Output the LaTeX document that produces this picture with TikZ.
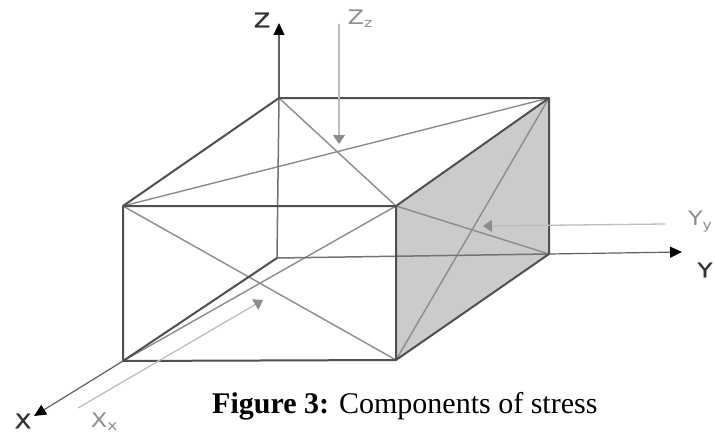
\documentclass[tikz,border=0pt]{standalone}
\usepackage{fontspec}
\setmainfont{Liberation Serif}
\newfontfamily\axfont[FakeStretch=1.2,FakeBold=1.2]{DejaVu Sans}
\newfontfamily\stfont[FakeStretch=1.2]{DejaVu Sans}
\usetikzlibrary{arrows.meta}
\definecolor{edgecol}{HTML}{505050}
\definecolor{diagcol}{HTML}{8C8C8C}
\definecolor{facecol}{HTML}{CBCBCB}
\definecolor{stresscol}{HTML}{BEBEBE}
\definecolor{stresslbl}{HTML}{8F8F8F}
\tikzset{
  x=1pt,y=-1pt,
  edge/.style={draw=edgecol,line width=2pt,line join=round},
  hidden/.style={draw=edgecol!80!white,line width=1.5pt},
  diag/.style={draw=diagcol,line width=1.4pt},
  axis/.style={draw=edgecol!90!white,line width=1.2pt,-{Triangle[length=12pt,width=11pt,fill=black,color=black]}},
  stress/.style={draw=stresscol,line width=1.3pt,-{Triangle[length=9pt,width=12pt,fill=diagcol,color=diagcol]}},
  axlbl/.style={font=\axfont\fontsize{20}{20}\selectfont,text=black!80,inner sep=0pt,anchor=center},
  stlbl/.style={font=\stfont\fontsize{20}{20}\selectfont,text=stresslbl,inner sep=0pt,anchor=center},
  caption/.style={font=\fontsize{30}{32}\selectfont,inner sep=0pt,anchor=base west}
}
\begin{document}
\begin{tikzpicture}
\useasboundingbox (0,0) rectangle (715,436);
\fill[white] (0,0) rectangle (715,436);
\coordinate (A) at (123,206);
\coordinate (B) at (396,206);
\coordinate (C) at (396,360);
\coordinate (D) at (123,361);
\coordinate (E) at (279,98);
\coordinate (F) at (549,98);
\coordinate (G) at (549,254);
\coordinate (H) at (277,258);
\coordinate (Ztip) at (279,23);
\coordinate (Ytip) at (682,252);
\coordinate (Xtip) at (34,416);
\coordinate (ZzS) at (339,24);
\coordinate (ZzE) at (339,144);
\coordinate (YyS) at (665,224);
\coordinate (YyE) at (483,226);
\coordinate (XxS) at (78,408);
\coordinate (XxE) at (263,300);
\fill[facecol] (B) -- (F) -- (G) -- (C) -- cycle;
% diagonals
\draw[diag] (A) -- (F);
\draw[diag] (E) -- (B);
\draw[diag] (A) -- (C);
\draw[diag] (D) -- (B);
\draw[diag] (B) -- (G);
\draw[diag] (C) -- (F);
% hidden edges
\draw[hidden] (E) -- (H);
\draw[hidden] (H) -- (G);
% axes
\draw[axis] (E) -- (Ztip);
\draw[axis] (G) -- (Ytip);
\draw[axis] (D) -- (Xtip);
% edges
\draw[edge] (H) -- (D);
\draw[edge] (A) -- (B) -- (C) -- (D) -- cycle;
\draw[edge] (A) -- (E) -- (F) -- (B);
\draw[edge] (F) -- (G) -- (C);
% stress arrows
\draw[stress] (ZzS) -- (ZzE);
\draw[stress] (YyS) -- (YyE);
\draw[stress] (XxS) -- (XxE);
% labels
\node[axlbl] (zl) at (262,20) {Z};
\node[axlbl] (yl) at (705,270) {Y};
\node[axlbl] (xl) at (23,421) {X};
\node[stlbl] (zzl) at (360,19) {Z\raisebox{-3pt}{\fontsize{13}{13}\selectfont z}};
\node[stlbl] (yyl) at (700,222) {Y\raisebox{-4pt}{\fontsize{13}{13}\selectfont y}};
\node[stlbl] (xxl) at (104,422) {X\raisebox{-3pt}{\fontsize{14}{14}\selectfont x}};
\node[caption] (cap) at (212,413) {\textbf{Figure 3:} Components of stress};
\end{tikzpicture}
\end{document}
